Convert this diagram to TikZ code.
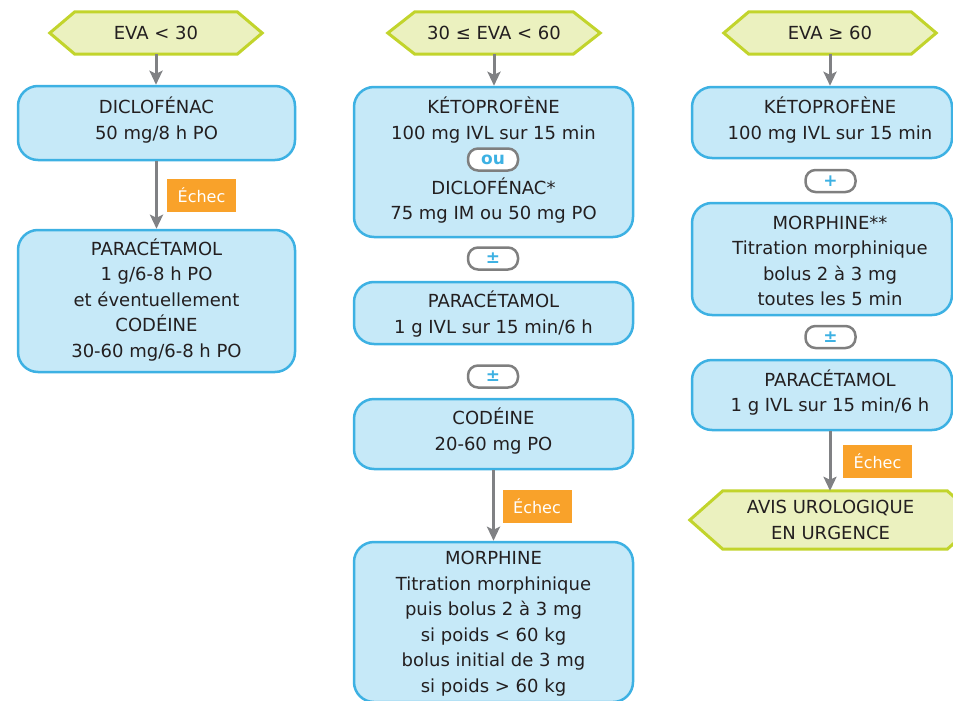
\documentclass[tikz,border=0pt]{standalone}
\usepackage{fontspec}
\setmainfont{DejaVu Sans}
\usetikzlibrary{arrows.meta,backgrounds,calc}
\definecolor{boxfill}{HTML}{C6E9F8}
\definecolor{boxline}{HTML}{3DB1E3}
\definecolor{hexfill}{HTML}{EBF1BF}
\definecolor{hexline}{HTML}{C2D42C}
\definecolor{echecfill}{HTML}{F9A22A}
\definecolor{arrowgray}{HTML}{808184}
\definecolor{pillgray}{HTML}{7F7F7F}
\definecolor{ink}{HTML}{231F20}
\begin{document}
\begin{tikzpicture}[x=1pt,y=-1pt,
  box/.style={draw=boxline, fill=boxfill, line width=2.5pt, rounded corners=20pt, inner sep=0pt},
  txt/.style={align=center, text=ink, inner sep=0pt, font=\fontsize{18}{25.5}\selectfont},
  hexnode/.style={inner sep=0pt, minimum height=42pt, text=ink, font=\fontsize{18}{25.5}\selectfont},
  hexdraw/.style={draw=hexline, fill=hexfill, line width=3pt, line join=miter},
  pill/.style={draw=pillgray, fill=white, line width=2.5pt, rounded corners=10pt, minimum width=50pt, minimum height=22pt, inner sep=0pt, text=boxline, font=\bfseries\fontsize{17}{17}\selectfont},
  echec/.style={fill=echecfill, text=white, minimum width=69pt, minimum height=33pt, inner sep=0pt, font=\fontsize{16}{16}\selectfont},
  arr/.style={draw=arrowgray, line width=3pt, -{Stealth[length=14pt,width=13pt,inset=3pt]}}
]
\useasboundingbox (0,0) rectangle (953,701);
\clip (0,0) rectangle (953,701);

% ---------- hexagons ----------
\node[hexnode, minimum width=162pt] (h1) at (156,33) {EVA < 30};
\node[hexnode, minimum width=158pt] (h2) at (494,33) {30 ≤ EVA < 60};
\node[hexnode, minimum width=162pt] (h3) at (830,33) {EVA ≥ 60};
\node[hexnode, minimum width=224pt, minimum height=58pt] (h4) at (835,520) {};
\begin{scope}[on background layer]
  \foreach \h/\t in {h1/25,h2/27,h3/25,h4/33}{
    \draw[hexdraw] (\h.north west) -- (\h.north east) -- ($(\h.east)+(\t,0)$)
      -- (\h.south east) -- (\h.south west) -- ($(\h.west)+(-\t,0)$) -- cycle;
  }
\end{scope}
\node[txt] (t34) at (830.5,520) {AVIS UROLOGIQUE\\EN URGENCE};

% ---------- column 1 ----------
\node[box, minimum width=277pt, minimum height=74pt] (b11) at (156.5,123) {};
\node[txt] (t11) at (156.5,120) {DICLOFÉNAC\\50 mg/8 h PO};
\node[box, minimum width=277pt, minimum height=142pt] (b12) at (156.5,301) {};
\node[txt] (t12) at (156.5,300) {PARACÉTAMOL\\1 g/6-8 h PO\\et éventuellement\\CODÉINE\\30-60 mg/6-8 h PO};

% ---------- column 2 ----------
\node[box, minimum width=279pt, minimum height=150pt] (b21) at (493.5,162) {};
\node[txt] (t21a) at (493.5,120) {KÉTOPROFÈNE\\100 mg IVL sur 15 min};
\node[pill] (p21) at (493,159.5) {ou};
\node[txt] (t21b) at (493.5,200.5) {DICLOFÉNAC*\\75 mg IM ou 50 mg PO};
\node[pill] (p22) at (493,258.5) {±};
\node[box, minimum width=279pt, minimum height=62pt] (b22) at (493.5,313) {};
\node[txt] (t22) at (493.5,314) {PARACÉTAMOL\\1 g IVL sur 15 min/6 h};
\node[pill] (p23) at (493,376.5) {±};
\node[box, minimum width=279pt, minimum height=70pt] (b23) at (493.5,434) {};
\node[txt] (t23) at (493.5,431) {CODÉINE\\20-60 mg PO};
\node[box, minimum width=279pt, minimum height=160pt] (b24) at (493.5,622) {};
\node[txt] (t24) at (493.5,623.5) {MORPHINE\\Titration morphinique\\puis bolus 2 à 3 mg\\si poids < 60 kg\\bolus initial de 3 mg\\si poids > 60 kg};

% ---------- column 3 ----------
\node[box, minimum width=260pt, minimum height=71pt] (b31) at (822,122.5) {};
\node[txt] (t31) at (830,120) {KÉTOPROFÈNE\\100 mg IVL sur 15 min};
\node[pill] (p31) at (830.5,181) {+};
\node[box, minimum width=260pt, minimum height=112pt] (b32) at (822,259) {};
\node[txt] (t32) at (830,261) {MORPHINE**\\Titration morphinique\\bolus 2 à 3 mg\\toutes les 5 min};
\node[pill] (p32) at (830.5,337) {±};
\node[box, minimum width=260pt, minimum height=70pt] (b33) at (822,395) {};
\node[txt] (t33) at (830,392.5) {PARACÉTAMOL\\1 g IVL sur 15 min/6 h};

% ---------- arrows ----------
\draw[arr] (h1.south) -- (h1.south |- b11.north);
\draw[arr] (h2.south) -- (h2.south |- b21.north);
\draw[arr] (h3.south) -- (h3.south |- b31.north);
\draw[arr] (b11.south) -- (b12.north);
\draw[arr] (b23.south) -- (b24.north);
\draw[arr] (t33 |- b33.south) -- (t33 |- h4.north);

% ---------- echec labels ----------
\node[echec] (e1) at (201.5,195) {Échec};
\node[echec] (e2) at (537,506.5) {Échec};
\node[echec] (e3) at (877.5,461) {Échec};
\end{tikzpicture}
\end{document}
